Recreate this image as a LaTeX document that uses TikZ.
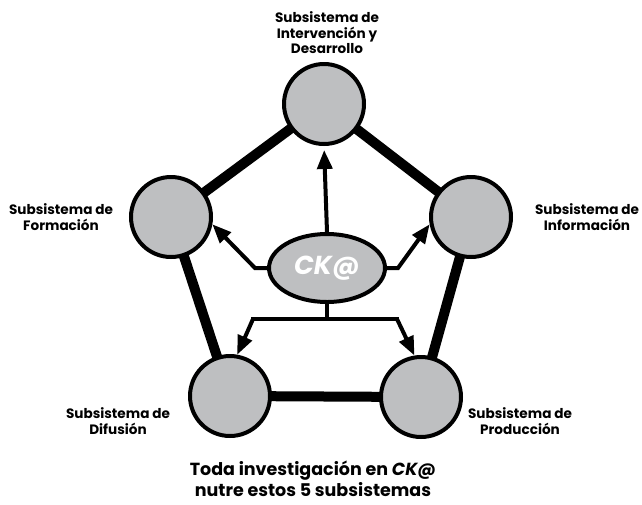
\documentclass[tikz,border=0pt]{standalone}
\usepackage{fontspec}
\setmainfont{Poppins}
\usetikzlibrary{arrows.meta,shapes.geometric,backgrounds}
\definecolor{sysgray}{RGB}{190,191,193}
\tikzset{
  sysnode/.style={circle,draw=black,line width=4pt,fill=sysgray,minimum size=80pt,inner sep=0pt},
  coreell/.style={ellipse,draw=black,line width=4pt,fill=sysgray,minimum width=116pt,minimum height=68pt,inner sep=0pt},
  link/.style={line width=10pt},
  feed/.style={line width=4pt,-{Triangle[length=19pt,width=15pt]}},
  stemline/.style={line width=4pt},
  lab/.style={font=\bfseries\fontsize{13.6}{15.5}\selectfont,align=center,inner sep=0pt},
  capt/.style={font=\bfseries\fontsize{17.5}{20.5}\selectfont,align=center,inner sep=0pt}
}
\begin{document}
\begin{tikzpicture}[x=1pt,y=-1pt]
\useasboundingbox (0,0) rectangle (642,504);
\node[sysnode] (top) at (324,104) {};
\node[sysnode] (left) at (171,217) {};
\node[sysnode] (right) at (471,217) {};
\node[sysnode] (bl) at (230,396) {};
\node[sysnode] (br) at (421,397) {};
\begin{scope}[on background layer]
\draw[link] (top.center) -- (left.center);
\draw[link] (top.center) -- (right.center);
\draw[link] (left.center) -- (bl.center);
\draw[link] (right.center) -- (br.center);
\draw[link] (bl.center) -- (br.center);
\end{scope}
\node[coreell] (core) at (327,268) {\textcolor{white}{\bfseries\itshape\fontsize{26}{26}\selectfont CK@}};
\coordinate (lbend) at (255,268);
\coordinate (rbend) at (398,268);
\coordinate (split) at (327,319);
\coordinate (sl) at (253,319);
\coordinate (sr) at (397,319);
\draw[feed,shorten >=4pt] (core.north) -- (top.south);
\draw[feed] (core.west) -- (lbend) -- (left.-10);
\draw[feed] (core.east) -- (rbend) -- (right.190);
\draw[stemline] (core.south) -- (split);
\draw[stemline,line cap=rect] (sl) -- (sr);
\draw[feed] (sl) -- (bl.80);
\draw[feed] (sr) -- (br.99);
\node[lab] (ltop) at (327,33) {Subsistema de\\Intervención y\\Desarrollo};
\node[lab] (lleft) at (61,217) {Subsistema de\\Formación};
\node[lab] (lright) at (587,217) {Subsistema de\\Información};
\node[lab] (lbl) at (118,421) {Subsistema de\\Difusión};
\node[lab] (lbr) at (520,421) {Subsistema de\\Producción};
\node[capt] (caption) at (313,479) {Toda investigación en \textit{CK@}\\nutre estos 5 subsistemas};
\end{tikzpicture}
\end{document}
